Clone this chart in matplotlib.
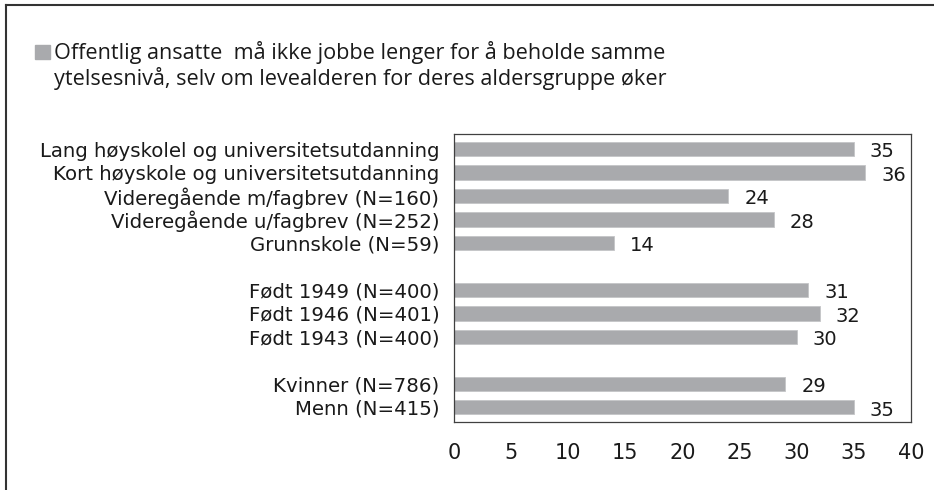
import matplotlib
matplotlib.use("Agg")
import matplotlib.pyplot as plt
from matplotlib.lines import Line2D
from matplotlib.patches import Rectangle

# =========================
# Data
# =========================

categories = [
    "Lang høyskolel og universitetsutdanning",
    "Kort høyskole og universitetsutdanning",
    "Videregående m/fagbrev (N=160)",
    "Videregående u/fagbrev (N=252)",
    "Grunnskole (N=59)",
    "Født 1949 (N=400)",
    "Født 1946 (N=401)",
    "Født 1943 (N=400)",
    "Kvinner (N=786)",
    "Menn (N=415)",
]
values = [35, 36, 24, 28, 14, 31, 32, 30, 29, 35]
group_sizes = [5, 3, 2]
xticks = [0, 5, 10, 15, 20, 25, 30, 35, 40]
legend_lines = [
    "Offentlig ansatte  må ikke jobbe lenger for å beholde samme",
    "ytelsesnivå, selv om levealderen for deres aldersgruppe øker",
]

BAR = "#a9aaad"
DARK = "#333333"
TXT = "#1a1a1a"
WIDE = ["DejaVu Sans"]
NARROW = ["Open Sans", "DejaVu Sans"]

# slots with one empty slot between groups
positions = []
slot = 0
for g in group_sizes:
    for i in range(g):
        positions.append(slot)
        slot += 1
    slot += 1

# =========================
# Figure
# =========================

W, H = 934, 490
fig = plt.figure(figsize=(W / 100, H / 100), dpi=100)
ax = fig.add_axes([454 / W, 1 - 422 / H, (911 - 454) / W, (422 - 134) / H])

ax.barh(positions, values, height=0.6, color=BAR, edgecolor="#c4c5c7", linewidth=0.6)

for p, v in zip(positions, values):
    ax.annotate(str(v), (v, p), xytext=(11.5, -2), textcoords="offset points",
                ha="left", va="center", fontsize=14, family=WIDE, color=TXT)

ax.set_xlim(0, 40)
ax.set_ylim(11.62, -0.64)
ax.set_yticks(positions)
ax.set_yticklabels(categories, fontsize=14.2, family=WIDE, color=TXT)
ax.set_xticks(xticks)
ax.set_xticklabels([str(t) for t in xticks], fontsize=15, family=WIDE, color=TXT)
ax.tick_params(axis="y", length=0, pad=10.5)
ax.tick_params(axis="x", length=0, pad=15)
for s in ax.spines.values():
    s.set_color("#404040")
    s.set_linewidth(0.9)

# =========================
# Legend / frame
# =========================

fig.patches.append(Rectangle((35 / W, 1 - 59 / H), 15 / W, 14 / H,
                             transform=fig.transFigure, color=BAR))
for i, line in enumerate(legend_lines):
    fig.text(54 / W, 1 - (59 + 26 * i) / H, line, fontsize=15.6, family=NARROW,
             color=TXT, ha="left", va="baseline")

fig.add_artist(Line2D([5.5 / W, 1], [1 - 5.5 / H, 1 - 5.5 / H], color=DARK, lw=1.5))
fig.add_artist(Line2D([5.5 / W, 5.5 / W], [0, 1 - 5.5 / H], color=DARK, lw=1.5))

fig.savefig("out.png", dpi=100)
